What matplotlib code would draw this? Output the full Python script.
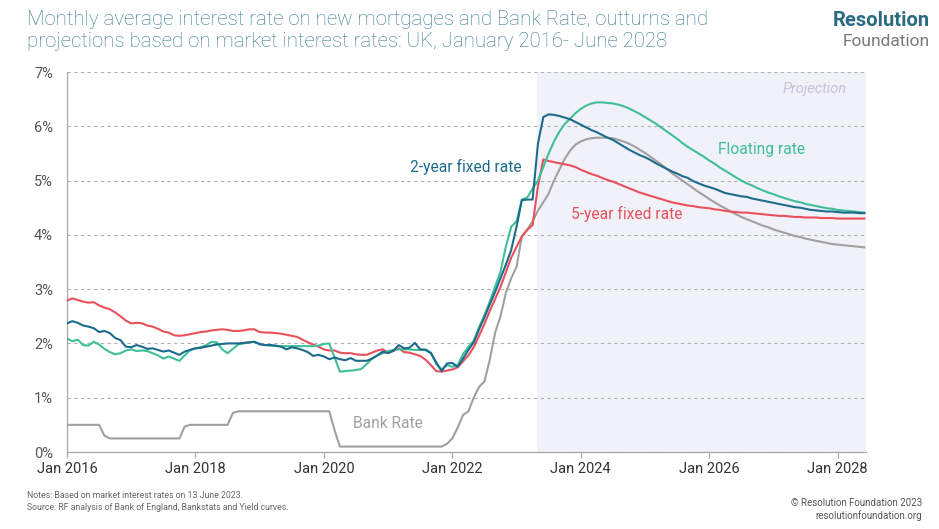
import matplotlib
matplotlib.use("Agg")
import matplotlib.pyplot as plt
from matplotlib import font_manager as fm
import numpy as np

# ---------------- data (monthly, Jan 2016 = month 0 ... Jun 2028 = month 149) ----------------
tick_labels = ["Jan 2016", "Jan 2018", "Jan 2020", "Jan 2022", "Jan 2024", "Jan 2026", "Jan 2028"]
tick_months = [0, 24, 48, 72, 96, 120, 144]
projection_start = 88  # May 2023

bank_rate = [
    0.5, 0.5, 0.5, 0.5, 0.5, 0.5, 0.5, 0.3, 0.25, 0.25,
    0.25, 0.25, 0.25, 0.25, 0.25, 0.25, 0.25, 0.25, 0.25, 0.25,
    0.25, 0.25, 0.47, 0.5, 0.5, 0.5, 0.5, 0.5, 0.5, 0.5,
    0.5, 0.72, 0.75, 0.75, 0.75, 0.75, 0.75, 0.75, 0.75, 0.75,
    0.75, 0.75, 0.75, 0.75, 0.75, 0.75, 0.75, 0.75, 0.75, 0.75,
    0.4, 0.1, 0.1, 0.1, 0.1, 0.1, 0.1, 0.1, 0.1, 0.1,
    0.1, 0.1, 0.1, 0.1, 0.1, 0.1, 0.1, 0.1, 0.1, 0.1,
    0.1, 0.15, 0.25, 0.45, 0.68, 0.75, 1.0, 1.2, 1.3, 1.7,
    2.2, 2.5, 2.93, 3.2, 3.41, 3.97, 4.1, 4.25, 4.45, 4.6,
    4.76, 5.0, 5.2, 5.4, 5.55, 5.66, 5.72, 5.76, 5.78, 5.79,
    5.79, 5.79, 5.78, 5.75, 5.72, 5.68, 5.63, 5.57, 5.51, 5.44,
    5.37, 5.30, 5.22, 5.14, 5.07, 5.00, 4.93, 4.86, 4.79, 4.73,
    4.66, 4.60, 4.54, 4.49, 4.43, 4.38, 4.33, 4.29, 4.25, 4.21,
    4.17, 4.14, 4.10, 4.07, 4.04, 4.01, 3.98, 3.96, 3.93, 3.91,
    3.89, 3.87, 3.85, 3.83, 3.82, 3.81, 3.80, 3.79, 3.78, 3.77,
]

two_year_fixed = [
    2.37, 2.41, 2.38, 2.33, 2.31, 2.28, 2.21, 2.23, 2.19, 2.10,
    2.06, 1.94, 1.93, 1.97, 1.94, 1.90, 1.91, 1.88, 1.85, 1.87,
    1.83, 1.79, 1.85, 1.88, 1.91, 1.92, 1.94, 1.96, 1.98, 1.99,
    2.00, 2.00, 2.00, 2.01, 2.02, 2.03, 1.99, 1.97, 1.97, 1.96,
    1.94, 1.89, 1.93, 1.91, 1.88, 1.84, 1.77, 1.79, 1.76, 1.71,
    1.74, 1.71, 1.69, 1.73, 1.68, 1.68, 1.68, 1.72, 1.78, 1.85,
    1.82, 1.87, 1.97, 1.91, 1.92, 2.01, 1.89, 1.88, 1.82, 1.65,
    1.49, 1.63, 1.64, 1.57, 1.72, 1.88, 2.02, 2.26, 2.48, 2.72,
    2.95, 3.20, 3.45, 3.72, 4.15, 4.64, 4.65, 4.65, 5.68, 6.17,
    6.22, 6.21, 6.19, 6.16, 6.13, 6.08, 6.03, 5.98, 5.93, 5.89,
    5.84, 5.79, 5.75, 5.69, 5.63, 5.57, 5.52, 5.47, 5.43, 5.38,
    5.32, 5.27, 5.22, 5.17, 5.13, 5.08, 5.05, 4.99, 4.95, 4.91,
    4.88, 4.85, 4.81, 4.77, 4.75, 4.73, 4.71, 4.70, 4.67, 4.65,
    4.63, 4.61, 4.59, 4.57, 4.55, 4.53, 4.51, 4.50, 4.48, 4.46,
    4.45, 4.44, 4.43, 4.43, 4.42, 4.41, 4.41, 4.41, 4.40, 4.40,
]

floating_rate = [
    2.09, 2.04, 2.07, 1.97, 1.96, 2.03, 1.98, 1.90, 1.84, 1.80,
    1.82, 1.87, 1.89, 1.86, 1.87, 1.86, 1.82, 1.78, 1.72, 1.76,
    1.72, 1.68, 1.78, 1.88, 1.91, 1.93, 1.97, 2.03, 2.02, 1.89,
    1.82, 1.90, 1.98, 2.00, 2.02, 2.03, 1.98, 1.97, 1.96, 1.95,
    1.95, 1.95, 1.95, 1.95, 1.95, 1.95, 1.95, 1.96, 1.99, 2.00,
    1.74, 1.48, 1.49, 1.50, 1.51, 1.53, 1.62, 1.72, 1.78, 1.82,
    1.86, 1.88, 1.89, 1.89, 1.89, 1.88, 1.88, 1.89, 1.83, 1.62,
    1.52, 1.60, 1.57, 1.60, 1.80, 1.94, 2.05, 2.30, 2.52, 2.77,
    3.05, 3.32, 3.78, 4.15, 4.25, 4.65, 4.69, 4.85, 5.00, 5.25,
    5.50, 5.72, 5.90, 6.04, 6.14, 6.24, 6.32, 6.38, 6.42, 6.44,
    6.44, 6.43, 6.42, 6.40, 6.37, 6.33, 6.28, 6.23, 6.17, 6.11,
    6.05, 5.98, 5.91, 5.84, 5.77, 5.69, 5.62, 5.56, 5.50, 5.44,
    5.37, 5.31, 5.24, 5.18, 5.12, 5.06, 5.00, 4.95, 4.91, 4.86,
    4.82, 4.78, 4.75, 4.71, 4.68, 4.65, 4.62, 4.60, 4.57, 4.55,
    4.53, 4.51, 4.49, 4.48, 4.46, 4.45, 4.44, 4.43, 4.42, 4.41,
]

five_year_fixed = [
    2.79, 2.83, 2.80, 2.77, 2.75, 2.76, 2.70, 2.66, 2.63, 2.57,
    2.50, 2.42, 2.37, 2.38, 2.37, 2.33, 2.31, 2.27, 2.22, 2.20,
    2.15, 2.14, 2.15, 2.17, 2.19, 2.21, 2.22, 2.24, 2.25, 2.26,
    2.25, 2.23, 2.23, 2.24, 2.26, 2.26, 2.21, 2.20, 2.20, 2.19,
    2.18, 2.16, 2.14, 2.12, 2.07, 2.02, 1.98, 1.94, 1.89, 1.87,
    1.87, 1.83, 1.82, 1.82, 1.80, 1.79, 1.79, 1.83, 1.87, 1.89,
    1.83, 1.86, 1.91, 1.84, 1.83, 1.80, 1.77, 1.70, 1.60, 1.49,
    1.48, 1.50, 1.52, 1.56, 1.67, 1.78, 1.93, 2.14, 2.36, 2.60,
    2.82, 3.04, 3.31, 3.58, 3.78, 3.97, 4.09, 4.18, 4.90, 5.39,
    5.36, 5.34, 5.32, 5.30, 5.28, 5.25, 5.20, 5.16, 5.12, 5.09,
    5.05, 5.01, 4.98, 4.94, 4.90, 4.86, 4.82, 4.78, 4.75, 4.72,
    4.69, 4.66, 4.63, 4.60, 4.58, 4.56, 4.54, 4.53, 4.51, 4.50,
    4.49, 4.47, 4.46, 4.44, 4.43, 4.42, 4.41, 4.41, 4.40, 4.39,
    4.38, 4.37, 4.36, 4.35, 4.35, 4.34, 4.33, 4.33, 4.32, 4.32,
    4.32, 4.31, 4.31, 4.31, 4.30, 4.30, 4.30, 4.30, 4.30, 4.30,
]

# ---------------- style ----------------
names = {f.name for f in fm.fontManager.ttflist}
FONT = "Roboto" if "Roboto" in names else "DejaVu Sans"
plt.rcParams["font.family"] = [FONT, "DejaVu Sans"]

C_BLUE = "#1d6b8c"
C_GREEN = "#3fbf98"
C_RED = "#e8505b"
C_GREY = "#a0a0a0"
C_TITLE = "#33788a"
C_SHADE = "#f1f1f9"

W, H = 939, 529
fig = plt.figure(figsize=(W / 100, H / 100), dpi=100)
fig.patch.set_facecolor("white")
ax = fig.add_axes([67 / W, 1 - 452 / H, (866 - 67) / W, (452 - 72) / H])

def xs(series):
    return np.arange(len(series))

xmax = 149.3
ax.axvspan(projection_start - 0.1, xmax, color=C_SHADE, zorder=0, lw=0)

ax.plot(xs(bank_rate), bank_rate, color=C_GREY, lw=1.5, zorder=3)
ax.plot(xs(five_year_fixed), five_year_fixed, color=C_RED, lw=1.5, zorder=4)
ax.plot(xs(floating_rate), floating_rate, color=C_GREEN, lw=1.5, zorder=5)
ax.plot(xs(two_year_fixed), two_year_fixed, color=C_BLUE, lw=1.5, zorder=6)

ax.set_xlim(0, xmax)
ax.set_ylim(0, 7)
ax.set_yticks(range(0, 8))
ax.set_yticklabels([f"{v}%" for v in range(0, 8)])
ax.set_xticks(tick_months)
ax.set_xticklabels(tick_labels)
ax.yaxis.grid(True, color="#b0b0b0", ls=(0, (3, 3)), lw=0.8)
ax.set_axisbelow(True)
for s in ["top", "right"]:
    ax.spines[s].set_visible(False)
for s in ["left", "bottom"]:
    ax.spines[s].set_color("#a8a8a8")
    ax.spines[s].set_linewidth(0.9)
ax.tick_params(axis="y", length=0, pad=10, labelsize=10.5, labelcolor="#555555")
ax.tick_params(axis="x", length=4, width=0.9, color="#a8a8a8", pad=3,
               labelsize=10.5, labelcolor="#333333")

# series labels
ax.text(85.0, 5.25, "2-year fixed rate", color=C_BLUE, fontsize=11.2, ha="right", va="center", zorder=7)
ax.text(129.7, 5.58, "Floating rate", color=C_GREEN, fontsize=11.2, ha="center", va="center", zorder=7)
ax.text(104.6, 4.38, "5-year fixed rate", color=C_RED, fontsize=11.2, ha="center", va="center", zorder=7)
ax.text(59.9, 0.52, "Bank Rate", color=C_GREY, fontsize=11.2, ha="center", va="center", zorder=7)
ax.text(139.8, 6.68, "Projection", color="#c3c3d9", fontsize=10.5, style="italic",
        ha="center", va="center", zorder=7)

# title
fig.text(27 / W, 1 - 10 / H,
         "Monthly average interest rate on new mortgages and Bank Rate, outturns and\n"
         "projections based on market interest rates: UK, January 2016- June 2028",
         color=C_TITLE, fontsize=14.7, fontweight="light", ha="left", va="top",
         linespacing=1.22)

# logo
fig.text(930 / W, 1 - 21 / H, "Resolution", color="#2a6b82", fontsize=14.5,
         fontweight="bold", ha="right", va="center")
fig.text(930 / W, 1 - 41 / H, "Foundation", color="#7a7a7a", fontsize=12.5,
         ha="right", va="center")

# footnotes
fig.text(27 / W, 1 - 496 / H, "Notes: Based on market interest rates on 13 June 2023.",
         color="#666666", fontsize=6.3, ha="left", va="center")
fig.text(27 / W, 1 - 507 / H, "Source: RF analysis of Bank of England, Bankstats and Yield curves.",
         color="#666666", fontsize=6.3, ha="left", va="center")
fig.text(922 / W, 1 - 503 / H, "\u00a9 Resolution Foundation 2023",
         color="#555555", fontsize=7, ha="right", va="center")
fig.text(922 / W, 1 - 516 / H, "resolutionfoundation.org",
         color="#555555", fontsize=7, ha="right", va="center")

fig.savefig("out.png", dpi=100, facecolor="white")
